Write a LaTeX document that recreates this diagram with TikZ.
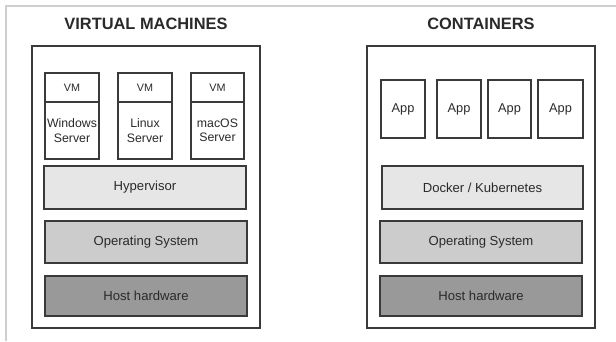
\documentclass[tikz,border=0pt]{standalone}
\usepackage{fontspec}
\setmainfont{Liberation Sans}
\definecolor{linec}{HTML}{3A3A3A}
\definecolor{txt}{HTML}{2A2A2A}
\definecolor{fillA}{HTML}{E6E6E6}
\definecolor{fillB}{HTML}{CCCCCC}
\definecolor{fillC}{HTML}{999999}
\definecolor{frame}{HTML}{CFCFCF}
\begin{document}
\begin{tikzpicture}[x=1pt,y=-1pt,
  box/.style={draw=linec,line width=1.3pt,text=txt,inner sep=0pt,align=center,font=\fontsize{12.3}{14.5}\selectfont},
  layer/.style={box,font=\fontsize{13.1}{15}\selectfont},
  vmlab/.style={box,font=\fontsize{10.8}{13}\selectfont},
  outerbox/.style={draw=linec,line width=1.3pt},
  title/.style={font=\bfseries\fontsize{16.4}{18}\selectfont,text=txt}]
\useasboundingbox (0,0) rectangle (616,341);
\fill[white] (0,0) rectangle (616,341);
\draw[frame,line width=1.2pt] (616,6) -- (6,6) -- (6,341);
% VM side
\node[title] (t1) at (146,24) {VIRTUAL MACHINES};
\node[outerbox,minimum width=228pt,minimum height=282pt] (vmo) at (146,187) {};
\node[vmlab,minimum width=54pt,minimum height=29pt] (v1t) at (72,87.5) {VM};
\node[box,minimum width=54pt,minimum height=57pt] (v1b) at (72,130.5) {\raisebox{2pt}{\parbox{54pt}{\centering Windows\\Server}}};
\node[vmlab,minimum width=54pt,minimum height=29pt] (v2t) at (145,87.5) {VM};
\node[box,minimum width=54pt,minimum height=57pt] (v2b) at (145,130.5) {Linux\\Server};
\node[vmlab,minimum width=53pt,minimum height=29pt] (v3t) at (217.5,87.5) {VM};
\node[box,minimum width=53pt,minimum height=57pt] (v3b) at (217.5,130.5) {macOS\\Server};
\node[layer,fill=fillA,minimum width=202pt,minimum height=43pt] (hyp) at (145,187.5) {Hypervisor};
\node[layer,fill=fillB,minimum width=202pt,minimum height=42pt] (os1) at (146,242) {Operating System};
\node[layer,fill=fillC,minimum width=202pt,minimum height=40pt] (hw1) at (146,296) {Host hardware};
% Containers side
\node[title] (t2) at (481,24) {CONTAINERS};
\node[outerbox,minimum width=228pt,minimum height=282pt] (co) at (481,187) {};
\node[box,font=\fontsize{12.8}{15}\selectfont,minimum width=44pt,minimum height=58pt] (a1) at (403,109) {App};
\node[box,font=\fontsize{12.8}{15}\selectfont,minimum width=44pt,minimum height=58pt] (a2) at (459,109) {App};
\node[box,font=\fontsize{12.8}{15}\selectfont,minimum width=43pt,minimum height=58pt] (a3) at (509.5,109) {App};
\node[box,font=\fontsize{12.8}{15}\selectfont,minimum width=45pt,minimum height=58pt] (a4) at (560.5,109) {App};
\node[layer,fill=fillA,minimum width=201pt,minimum height=43pt] (dk) at (482.5,187.5) {Docker / Kubernetes};
\node[layer,fill=fillB,minimum width=202pt,minimum height=42pt] (os2) at (481,242) {Operating System};
\node[layer,fill=fillC,minimum width=202pt,minimum height=40pt] (hw2) at (481,296) {Host hardware};
\end{tikzpicture}
\end{document}
